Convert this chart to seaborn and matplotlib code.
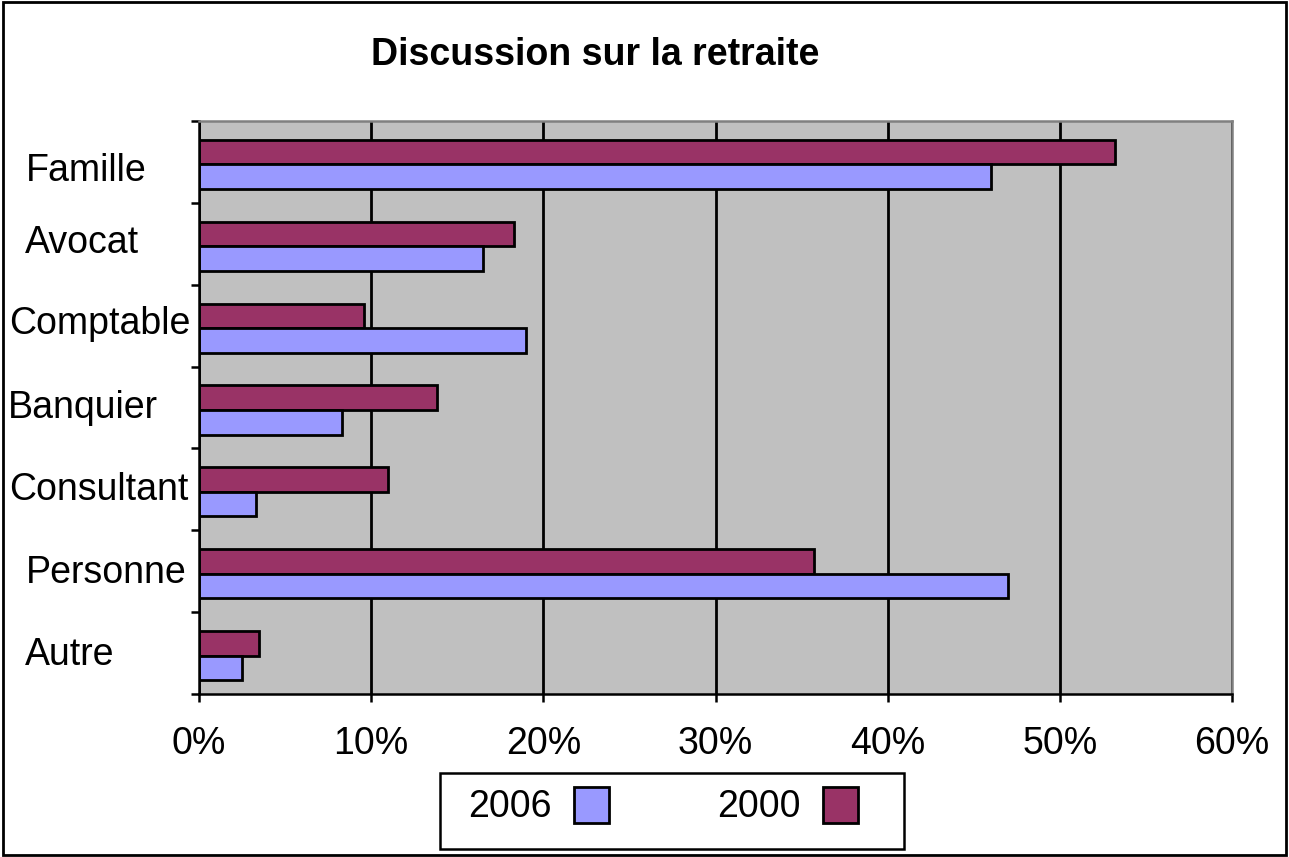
import matplotlib
matplotlib.use("Agg")
import matplotlib.pyplot as plt
import matplotlib.patches as mpatches
import matplotlib.transforms as mtransforms
from matplotlib.ticker import PercentFormatter, FixedLocator
import seaborn as sns
import pandas as pd
import numpy as np

categories = ["Famille", "Avocat", "Comptable", "Banquier", "Consultant", "Personne", "Autre"]
values_2006 = [0.460, 0.165, 0.190, 0.083, 0.033, 0.470, 0.025]
values_2000 = [0.532, 0.183, 0.096, 0.138, 0.110, 0.357, 0.035]
years = ["2000", "2006"]
legend_order = ["2006", "2000"]
colors = {"2006": "#9999FF", "2000": "#993366"}

# category label placement: left indent (px) and baseline nudge (category units)
label_dx = [18, 17, 1, 0, 1, 18, 17]
label_dy = [0.20, 0.08, 0.07, 0.10, 0.10, 0.12, 0.12]

df = pd.DataFrame({
    "categorie": categories * 2,
    "annee": ["2006"] * len(categories) + ["2000"] * len(categories),
    "part": values_2006 + values_2000,
})

sns.set_theme(style="white")
plt.rcParams["font.family"] = ["Liberation Sans", "DejaVu Sans"]
plt.rcParams["text.color"] = "black"

FS = 27
W, H, DPI = 1289, 857, 100
fig = plt.figure(figsize=(W / DPI, H / DPI), dpi=DPI)
ax = fig.add_axes([199 / W, 1 - 694 / H, (1232 - 199) / W, (694 - 121) / H])
ax.set_facecolor("#C0C0C0")

sns.barplot(data=df, y="categorie", x="part", hue="annee", order=categories,
            hue_order=years, palette=colors, orient="h", width=0.6,
            edgecolor="black", linewidth=2.0, saturation=1, ax=ax, legend=False)

SHIFT = -0.03
ax.set_xlim(0, 0.6)
ax.set_ylim(len(categories) - 0.5 + SHIFT, -0.5 + SHIFT)
ax.xaxis.set_major_locator(FixedLocator(np.arange(0, 0.61, 0.1)))
ax.xaxis.set_major_formatter(PercentFormatter(1.0, decimals=0))
ax.set_xlabel("")
ax.set_ylabel("")

# vertical gridlines
ax.grid(axis="x", color="black", linewidth=2.0)
ax.grid(axis="y", visible=False)
ax.set_axisbelow(True)

for side in ["left", "bottom"]:
    ax.spines[side].set_color("black")
    ax.spines[side].set_linewidth(1.8)
for side in ["top", "right"]:
    ax.spines[side].set_color("#808080")
    ax.spines[side].set_linewidth(1.8)

ax.tick_params(axis="x", direction="out", length=6, width=1.8, color="black",
               labelsize=FS, labelcolor="black", pad=17, bottom=True)
# y ticks sit at category boundaries
ax.set_yticks(np.arange(-0.5, len(categories), 1.0) + SHIFT, minor=True)
ax.tick_params(axis="y", which="minor", direction="out", length=6, width=1.8,
               color="black", left=True)
ax.tick_params(axis="y", which="major", left=False, labelleft=False)

# category labels, left aligned near the figure edge
trans = mtransforms.blended_transform_factory(fig.transFigure, ax.transData)
for i, cat in enumerate(categories):
    ax.text((8 + label_dx[i]) / W, i + label_dy[i], cat, transform=trans,
            ha="left", va="baseline", fontsize=FS, color="black")

fig.text(595 / W, 1 - 65 / H, "Discussion sur la retraite", ha="center", va="baseline",
         fontsize=FS, fontweight="bold", color="black")

# legend: entries with the swatch after the year, inside a plain box
handles = [mpatches.Patch(facecolor=colors[y], edgecolor="black", linewidth=2.0)
           for y in legend_order]
leg = fig.legend(handles, legend_order, loc="center",
                 bbox_to_anchor=(663 / W, 1 - 806 / H), bbox_transform=fig.transFigure,
                 ncol=2, markerfirst=False, fontsize=FS, frameon=False,
                 handlelength=0.92, handleheight=1.1, handletextpad=0.6,
                 columnspacing=2.9, borderpad=0.0, borderaxespad=0)
for t in leg.get_texts():
    t.set_color("black")
fig.patches.append(mpatches.Rectangle((440 / W, 1 - 849 / H), 464 / W, 76 / H,
                                      transform=fig.transFigure, fill=True,
                                      facecolor="white", edgecolor="black",
                                      linewidth=1.8, zorder=0))

# outer border of the chart
fig.patches.append(mpatches.Rectangle((0.002, 0.002), 0.996, 0.996,
                                      transform=fig.transFigure, fill=False,
                                      edgecolor="black", linewidth=2))

fig.savefig("out.png", dpi=DPI, facecolor="white")
